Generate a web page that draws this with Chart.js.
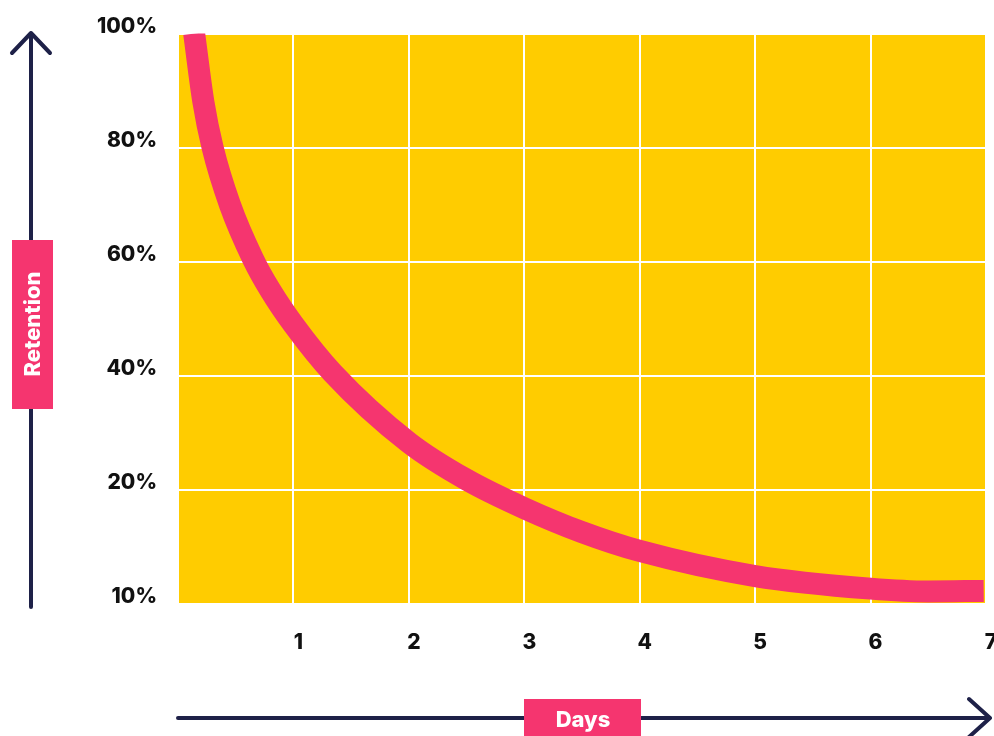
<!DOCTYPE html>
<html>
<head>
<meta charset="utf-8">
<script src="https://cdn.jsdelivr.net/npm/chart.js@4.4.0/dist/chart.umd.min.js"></script>
<style>
    html, body { margin: 0; padding: 0; background: #ffffff; }
    #wrap { width: 994px; height: 736px; }
</style>
</head>
<body>
<div id="wrap"><canvas id="myChart" width="994" height="736"></canvas></div>
<script>
// Dados da curva (dias x retencao, em unidades do eixo)
var dias = [0.14, 0.22, 0.30, 0.45, 0.65, 0.80, 1.0, 1.34, 2.0, 2.5, 3.0, 3.5, 4.0, 5.0, 6.0, 6.5, 6.98];
var retencao = [100, 88, 80, 70, 60.5, 55, 49, 40.5, 28.3, 21.8, 16.8, 12.6, 9.3, 4.9, 2.7, 2.2, 2.3];

// Rotulos dos eixos
var diasTicks = ['', '1', '2', '3', '4', '5', '6', '7'];
var retencaoTicks = { 0: '10%', 20: '20%', 40: '40%', 60: '60%', 80: '80%', 100: '100%' };

var amarelo = '#FFCC00';
var rosa = '#F5356F';
var azul = '#1E2148';
var fonte = 'Inter, "DejaVu Sans", sans-serif';

var pontos = dias.map(function (d, i) {
    return { x: d, y: retencao[i] };
});

// Fundo amarelo da area do grafico
var fundoPlugin = {
    id: 'fundo',
    beforeDraw: function (chart) {
        var a = chart.chartArea;
        var ctx = chart.ctx;
        ctx.save();
        ctx.fillStyle = amarelo;
        ctx.fillRect(a.left, a.top, a.right - a.left, a.bottom - a.top);
        ctx.restore();
    }
};

// Setas e caixas dos titulos dos eixos
var setasPlugin = {
    id: 'setas',
    afterDraw: function (chart) {
        var ctx = chart.ctx;
        ctx.save();
        ctx.strokeStyle = azul;
        ctx.lineWidth = 4;
        ctx.lineCap = 'round';
        ctx.lineJoin = 'round';

        // seta vertical
        ctx.beginPath();
        ctx.moveTo(31, 607);
        ctx.lineTo(31, 33);
        ctx.moveTo(12, 53);
        ctx.lineTo(31, 33);
        ctx.lineTo(50, 53);
        ctx.stroke();

        // seta horizontal
        ctx.beginPath();
        ctx.moveTo(178, 718);
        ctx.lineTo(990, 718);
        ctx.moveTo(969, 699);
        ctx.lineTo(990, 718);
        ctx.lineTo(969, 737);
        ctx.stroke();

        // caixa Retention
        ctx.fillStyle = rosa;
        ctx.fillRect(12, 240, 41, 169);
        ctx.fillStyle = '#ffffff';
        ctx.font = '800 22px ' + fonte;
        ctx.textAlign = 'center';
        ctx.textBaseline = 'middle';
        ctx.save();
        ctx.translate(33, 324);
        ctx.rotate(-Math.PI / 2);
        ctx.fillText('Retention', 0, 0);
        ctx.restore();

        // caixa Days
        ctx.fillStyle = rosa;
        ctx.fillRect(524, 699, 117, 37);
        ctx.fillStyle = '#ffffff';
        ctx.fillText('Days', 583, 720);
        ctx.restore();
    }
};

var ctx = document.getElementById('myChart').getContext('2d');
var myChart = new Chart(ctx, {
    type: 'line',
    data: {
        datasets: [{
            data: pontos,
            borderColor: rosa,
            borderWidth: 22,
            borderCapStyle: 'butt',
            cubicInterpolationMode: 'monotone',
            pointRadius: 0,
            fill: false,
            clip: 0
        }]
    },
    options: {
        responsive: false,
        animation: false,
        layout: { padding: { left: 0, top: 33, right: 8, bottom: 0 } },
        plugins: {
            legend: { display: false },
            tooltip: { enabled: false }
        },
        scales: {
            x: {
                type: 'linear',
                min: 0,
                max: 7,
                border: { display: false },
                grid: { color: '#ffffff', lineWidth: 2, drawTicks: false },
                ticks: {
                    stepSize: 1,
                    padding: 26,
                    labelOffset: 5,
                    maxRotation: 0,
                    color: '#111111',
                    font: { family: fonte, size: 21, weight: '800' },
                    callback: function (value) {
                        return diasTicks[value];
                    }
                },
                afterFit: function (scale) {
                    scale.height = 132;
                    scale.paddingLeft = 0;
                    scale.paddingRight = 0;
                }
            },
            y: {
                type: 'linear',
                min: 0,
                max: 100,
                border: { display: false },
                grid: { color: '#ffffff', lineWidth: 2, drawTicks: false },
                ticks: {
                    stepSize: 20,
                    padding: 21,
                    labelOffset: -7,
                    color: '#111111',
                    font: { family: fonte, size: 21, weight: '800' },
                    callback: function (value) {
                        return retencaoTicks[value];
                    }
                },
                afterFit: function (scale) {
                    scale.width = 178;
                }
            }
        }
    },
    plugins: [fundoPlugin, setasPlugin]
});
</script>
</body>
</html>
